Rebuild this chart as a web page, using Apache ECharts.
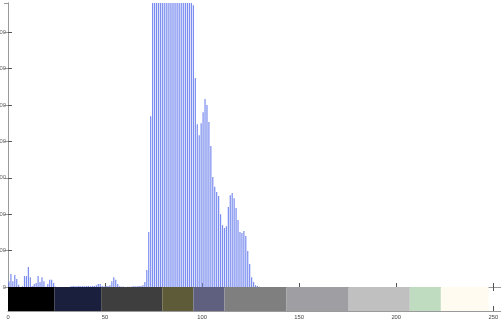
<!DOCTYPE html>
<html>
<head>
<meta charset="utf-8">
<script src="https://cdn.jsdelivr.net/npm/echarts@6/dist/echarts.min.js"></script>
<style>
  html, body { margin: 0; padding: 0; background: #fff; }
  #chart { width: 501px; height: 324px; }
</style>
</head>
<body>
<div id="chart"></div>
<script>
// histogram counts per grey level, bins 0..129 (bins above 129 are empty)
const binCounts = [
  16, 36, 16, 33, 22, 6, 0, 2, 30, 30, 55, 27, 3, 8, 11, 30, 14, 27, 16, 1, 8, 20, 20, 11, 1,
  0, 0, 0, 0, 0, 0, 0,
  2, 3, 2, 2, 3, 2, 3, 2, 3, 3, 2, 3, 3, 5, 8, 8, 3, 2,
  3, 3, 5, 16, 27, 20, 8, 2,
  1, 1, 0, 1, 1, 1, 2, 2, 2, 3, 3,
  5, 14, 47, 151, 469,
  860, 1120, 1380, 1650, 1900, 2150, 2300, 2420, 2500, 2480, 2400, 2290, 2150, 1980, 1800, 1620, 1450, 1280, 1120, 980, 860,
  774, 574, 447, 417, 450, 480, 516, 500, 453, 387, 302, 275, 261, 250, 200, 170, 162, 167, 220, 252,
  258, 244, 217, 184, 151, 148, 154, 140, 99, 63, 27, 14, 5, 3, 1
]
const yTicks = [0, 100, 200, 300, 400, 500, 600, 700]
const xTicks = [0, 50, 100, 150, 200, 250]

// colour bar under the histogram: segment edges in grey-level units
const cmapEdges = [0, 24, 48, 79.5, 95.5, 111.5, 143.5, 175.5, 207, 223, 247.5]
const cmapColors = ['#000000', '#1b1f3e', '#3e3e3e', '#5e5c38', '#5f5f80', '#7f7f7f', '#9e9ea3', '#c0c0c0', '#c0dcc0', '#fffbf0']

const lineColor = '#9a9a9a'
const tickColor = '#555'
const labelStyle = { fontSize: 5.8, color: '#444', fontFamily: 'Liberation Sans' }

const chart = echarts.init(document.getElementById('chart'))

const xBase = {
  type: 'value',
  min: 0,
  max: 255,
  interval: 50,
  splitLine: { show: false },
  axisLine: { lineStyle: { color: lineColor, width: 1 } },
  axisTick: { inside: true, length: 4, lineStyle: { color: tickColor } },
  axisLabel: { show: false }
}

const option = {
  animation: false,
  backgroundColor: '#fff',
  grid: [
    { left: 8, right: -2, top: 3, bottom: 37, containLabel: false, outerBoundsMode: 'none' },
    { left: 8, right: -2, top: 287, height: 24, containLabel: false, outerBoundsMode: 'none' }
  ],
  xAxis: [
    { ...xBase, gridIndex: 0, position: 'bottom' },
    { ...xBase, gridIndex: 0, position: 'top' },
    {
      ...xBase,
      gridIndex: 1,
      position: 'bottom',
      axisTick: { inside: true, length: 5, lineStyle: { color: tickColor } },
      axisLabel: {
        show: true,
        margin: 3,
        showMaxLabel: false,
        ...labelStyle,
        formatter: (v) => (xTicks.includes(v) ? String(v) : '')
      }
    },
    {
      ...xBase,
      gridIndex: 1,
      position: 'top',
      axisTick: { inside: true, length: 3, lineStyle: { color: tickColor } }
    }
  ],
  yAxis: [
    {
      type: 'value',
      gridIndex: 0,
      position: 'left',
      min: 0,
      max: 780,
      interval: 100,
      splitLine: { show: false },
      axisLine: { show: true, lineStyle: { color: lineColor } },
      axisTick: { inside: true, length: 4, lineStyle: { color: tickColor } },
      axisLabel: {
        margin: 2,
        showMaxLabel: false,
        ...labelStyle,
        color: '#666',
        formatter: (v) => (yTicks.includes(v) ? String(v) : '')
      }
    },
    {
      type: 'value',
      gridIndex: 0,
      position: 'right',
      min: 0,
      max: 780,
      interval: 100,
      splitLine: { show: false },
      axisLine: { show: true, lineStyle: { color: lineColor } },
      axisTick: { inside: true, length: 4, lineStyle: { color: '#999' } },
      axisLabel: { show: false }
    },
    {
      type: 'value',
      gridIndex: 1,
      min: 0,
      max: 1,
      show: false
    }
  ],
  series: [
    {
      type: 'bar',
      xAxisIndex: 0,
      yAxisIndex: 0,
      data: binCounts.map((v, i) => [i + 0.5, v]),
      barWidth: 1.2,
      clip: true,
      itemStyle: { color: '#7a8def' }
    },
    {
      type: 'custom',
      xAxisIndex: 2,
      yAxisIndex: 2,
      data: cmapColors.map((c, i) => [cmapEdges[i], cmapEdges[i + 1], i]),
      encode: { x: [0, 1] },
      renderItem: (params, api) => {
        const p0 = api.coord([api.value(0), 1])
        const p1 = api.coord([api.value(1), 0])
        return {
          type: 'rect',
          shape: { x: p0[0], y: p0[1], width: p1[0] - p0[0], height: p1[1] - p0[1] },
          style: { fill: cmapColors[api.value(2)] }
        }
      },
      z: 1
    }
  ]
}

chart.setOption(option)
</script>
</body>
</html>
